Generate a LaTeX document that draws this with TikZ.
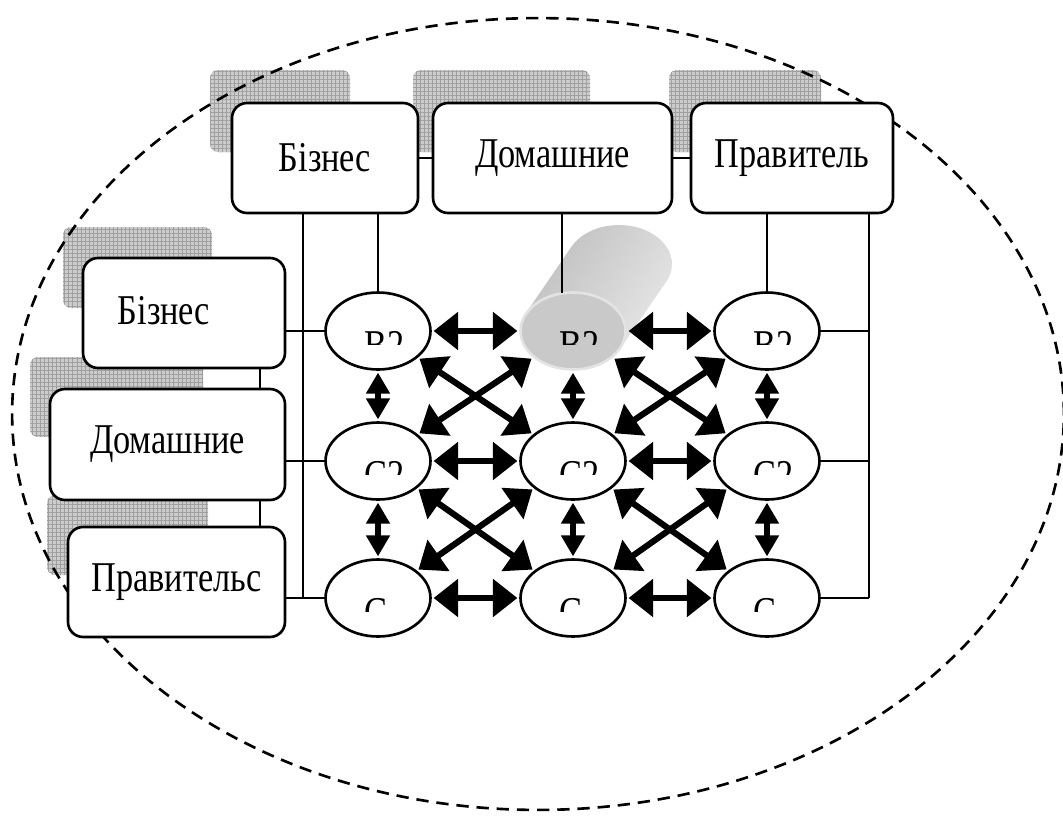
\documentclass[tikz,border=0pt]{standalone}
\usepackage{fontspec}
\setmainfont{Liberation Serif}
\usepackage{tikz}
\usetikzlibrary{positioning, shapes.geometric, arrows.meta, patterns.meta}

\tikzset{
    tbox/.style={draw, line width=1.5pt, rounded corners=0.3cm, fill=white,
        inner sep=2pt, font=\fontsize{21}{25}\selectfont},
    ebox/.style={ellipse, draw, line width=1.5pt, fill=white,
        minimum width=2.1cm, minimum height=1.54cm, inner sep=0pt},
    gridshade/.style={rounded corners=0.16cm, preaction={fill=gray!40},
        pattern={Hatch[angle=0, distance=2.3pt, line width=0.3pt]}, pattern color=gray!75},
    link/.style={line width=1.1pt},
    lbl/.style={inner sep=0pt, font=\fontsize{21}{25}\selectfont},
    biarrow/.style={line width=3.5pt, shorten <=1pt, shorten >=1pt,
        {Triangle[length=14pt, width=21pt]}-{Triangle[length=14pt, width=21pt]}},
    vbiarrow/.style={line width=3.5pt, shorten <=1pt, shorten >=1pt,
        {Triangle[length=12pt, width=13pt]}-{Triangle[length=12pt, width=13pt]}},
}

% narrow, tall letters as in the source
\newcommand{\tall}[1]{\scalebox{0.93}[1.15]{#1}}

% top half of a label, the rest is cut away
\newcommand{\cutlabel}[4]{%
    \begin{scope}
        \clip (#2-20,#3-4) rectangle (#2+34,#3+13);
        \node[lbl, anchor=north west] (#1) at (#2-14,#3) {\tall{#4}};
    \end{scope}}

\begin{document}
\begin{tikzpicture}[x=0.02cm, y=-0.02cm]
    \useasboundingbox (0,0) rectangle (1063,819);

    % shadows
    \path[gridshade] (210,70) rectangle (350,152);
    \path[gridshade] (413,70) rectangle (590,152);
    \path[gridshade] (669,70) rectangle (821,152);
    \path[gridshade] (63,227) rectangle (212,308);
    \path[gridshade] (30,357) rectangle (203,437);
    \path[gridshade] (47,495) rectangle (208,575);

    % outer border
    \draw[line width=1.5pt, dash pattern=on 7pt off 4.5pt]
        (538,414) ellipse [x radius=10.52cm, y radius=7.92cm];

    % cylinder body
    \path[bottom color=gray!50, middle color=gray!72, top color=gray!20, shading angle=235.5]
        (525.7,313.4) -- (620.3,348.6) -- (666.3,281.6) -- (571.7,246.4) -- cycle
        (619,264) ellipse [x radius=1.06cm, y radius=0.78cm];

    % boxes
    \node[tbox, minimum width=3.72cm, minimum height=2.2cm] (tbus) at (325,158) {\tall{Бізнес}};
    \node[tbox, minimum width=4.78cm, minimum height=2.2cm] (thome) at (552.5,158) {\tall{Домашние}};
    \node[tbox, minimum width=4.04cm, minimum height=2.2cm] (tgov) at (792,158) {\tall{Правитель}};
    \node[tbox, minimum width=4.04cm, minimum height=2.2cm] (lbus) at (184,313) {\raisebox{3pt}{\kern-0.8cm\tall{Бізнес}}};
    \node[tbox, minimum width=4.7cm, minimum height=2.22cm] (lhome) at (167.5,444.5) {\tall{Домашние}};
    \node[tbox, minimum width=4.34cm, minimum height=2.2cm] (lgov) at (176.5,582) {\tall{Правительс}};

    % ellipses
    \node[ebox] (e11) at (378,331) {};
    \node[ebox, fill=gray!42, draw=gray!22, line width=1.5pt] (e12) at (573,331) {};
    \node[ebox] (e13) at (767,331) {};
    \node[ebox] (e21) at (378,461) {};
    \node[ebox] (e22) at (573,461) {};
    \node[ebox] (e23) at (767,461) {};
    \node[ebox] (e31) at (378,598) {};
    \node[ebox] (e32) at (573,598) {};
    \node[ebox] (e33) at (767,598) {};

    \cutlabel{l11}{378}{331}{B2}
    \cutlabel{l12}{573}{331}{B2}
    \cutlabel{l13}{767}{331}{B2}
    \cutlabel{l21}{378}{461}{C2}
    \cutlabel{l22}{573}{461}{C2}
    \cutlabel{l23}{767}{461}{C2}
    \cutlabel{l31}{378}{598}{C}
    \cutlabel{l32}{573}{598}{C}
    \cutlabel{l33}{767}{598}{C}

    % thin connectors
    \coordinate (bl) at (303,0);
    \coordinate (br) at (869,0);
    \coordinate (lk) at (260,0);
    \coordinate (hc) at (562,293);
    \draw[link] (tbus.east) -- (thome.west);
    \draw[link] (thome.east) -- (tgov.west);
    \draw[link] (lbus.south -| lk) -- (lhome.north -| lk);
    \draw[link] (lhome.south -| lk) -- (lgov.north -| lk);
    \draw[link] (tbus.south -| bl) -- (e31.west -| bl);
    \draw[link] (tgov.south -| br) -- (e33.east -| br);
    \draw[link] (tbus.south -| e11.north) -- (e11.north);
    \draw[link] (thome.south -| hc) -- (hc);
    \draw[link] (tgov.south -| e13.north) -- (e13.north);
    \draw[link] (e11.west -| lbus.east) -- (e11.west);
    \draw[link] (e21.west -| lhome.east) -- (e21.west);
    \draw[link] (e31.west -| lgov.east) -- (e31.west);
    \draw[link] (e13.east) -- (e13.east -| br);
    \draw[link] (e23.east) -- (e23.east -| br);
    \draw[link] (e33.east) -- (e33.east -| br);

    % arrows
    \draw[biarrow] (e11) -- (e12);
    \draw[biarrow] (e12) -- (e13);
    \draw[biarrow] (e21) -- (e22);
    \draw[biarrow] (e22) -- (e23);
    \draw[biarrow] (e31) -- (e32);
    \draw[biarrow] (e32) -- (e33);
    \draw[vbiarrow] (e11) -- (e21);
    \draw[vbiarrow] (e21) -- (e31);
    \draw[vbiarrow] (e12) -- (e22);
    \draw[vbiarrow] (e22) -- (e32);
    \draw[vbiarrow] (e13) -- (e23);
    \draw[vbiarrow] (e23) -- (e33);
    \draw[biarrow] (e11) -- (e22);
    \draw[biarrow] (e21) -- (e12);
    \draw[biarrow] (e12) -- (e23);
    \draw[biarrow] (e22) -- (e13);
    \draw[biarrow] (e21) -- (e32);
    \draw[biarrow] (e31) -- (e22);
    \draw[biarrow] (e22) -- (e33);
    \draw[biarrow] (e32) -- (e23);
\end{tikzpicture}
\end{document}
